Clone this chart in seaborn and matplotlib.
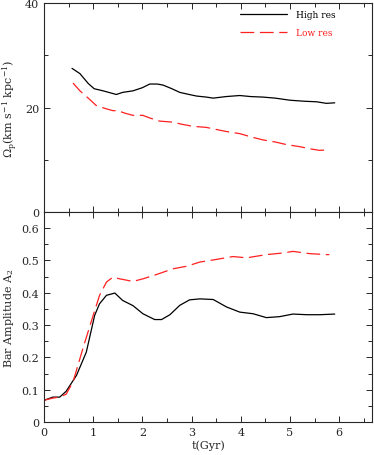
import numpy as np
import pandas as pd
import matplotlib
matplotlib.use("Agg")
import matplotlib.pyplot as plt
from matplotlib.ticker import MultipleLocator
import seaborn as sns

# pattern speed (top panel)
t_hi_om = [0.57, 0.73, 0.9, 1.02, 1.2, 1.47, 1.6, 1.81, 2.0, 2.15, 2.3, 2.42, 2.6, 2.76, 2.95, 3.1, 3.3, 3.44, 3.7, 3.98, 4.2, 4.45, 4.7, 5.0, 5.3, 5.54, 5.74, 5.91]
om_hi = [27.5, 26.5, 24.6, 23.6, 23.2, 22.5, 22.9, 23.2, 23.8, 24.5, 24.5, 24.3, 23.6, 22.9, 22.5, 22.2, 22.0, 21.8, 22.1, 22.3, 22.1, 22.0, 21.8, 21.4, 21.2, 21.1, 20.8, 20.9]
t_lo_om = [0.59, 0.73, 0.9, 1.06, 1.25, 1.4, 1.5, 1.65, 1.81, 2.01, 2.15, 2.35, 2.62, 2.8, 3.03, 3.3, 3.5, 3.71, 3.98, 4.2, 4.45, 4.7, 4.93, 5.2, 5.4, 5.6, 5.8]
om_lo = [24.7, 23.2, 21.8, 20.4, 19.8, 19.4, 19.4, 18.9, 18.5, 18.5, 18.0, 17.4, 17.2, 16.8, 16.4, 16.2, 15.8, 15.4, 15.0, 14.4, 13.8, 13.4, 12.9, 12.5, 12.1, 11.8, 11.9]

# bar amplitude (bottom panel)
t_hi_a2 = [0.0, 0.18, 0.32, 0.45, 0.66, 0.86, 1.03, 1.13, 1.27, 1.44, 1.6, 1.81, 2.01, 2.25, 2.39, 2.56, 2.76, 2.96, 3.17, 3.44, 3.71, 3.98, 4.25, 4.52, 4.79, 5.06, 5.34, 5.61, 5.91]
a2_hi = [0.067, 0.077, 0.077, 0.095, 0.144, 0.216, 0.33, 0.366, 0.392, 0.399, 0.376, 0.36, 0.335, 0.317, 0.317, 0.332, 0.361, 0.378, 0.381, 0.379, 0.356, 0.34, 0.335, 0.323, 0.326, 0.334, 0.332, 0.332, 0.334]
t_lo_a2 = [0.0, 0.18, 0.32, 0.45, 0.59, 0.79, 1.0, 1.13, 1.27, 1.4, 1.54, 1.81, 2.01, 2.28, 2.62, 2.9, 3.17, 3.5, 3.84, 4.12, 4.52, 4.86, 5.06, 5.4, 5.74, 5.8]
a2_lo = [0.067, 0.074, 0.077, 0.086, 0.124, 0.227, 0.33, 0.392, 0.433, 0.448, 0.443, 0.435, 0.443, 0.456, 0.474, 0.482, 0.495, 0.503, 0.512, 0.508, 0.518, 0.523, 0.528, 0.521, 0.518, 0.518]

sns.set_style("ticks")
plt.rcParams["font.family"] = ["DejaVu Serif"]
plt.rcParams["mathtext.fontset"] = "dejavuserif"

fig = plt.figure(figsize=(3.74, 4.56), dpi=100)
ax1 = fig.add_axes([0.1176, 0.533, 0.8774, 0.458])
ax2 = fig.add_axes([0.1176, 0.0724, 0.8774, 0.4606])

red = "#ff2020"
dash = (0, (11, 4.5))

sns.lineplot(x=t_hi_om, y=om_hi, ax=ax1, color="black", lw=0.9, label="High res")
sns.lineplot(x=t_lo_om, y=om_lo, ax=ax1, color=red, lw=0.9, linestyle=dash, label="Low res")
sns.lineplot(x=t_hi_a2, y=a2_hi, ax=ax2, color="black", lw=0.9)
sns.lineplot(x=t_lo_a2, y=a2_lo, ax=ax2, color=red, lw=0.9, linestyle=dash)

for ax in (ax1, ax2):
    ax.set_xlim(0, 6.67)
    ax.xaxis.set_major_locator(MultipleLocator(1))
    ax.xaxis.set_minor_locator(MultipleLocator(0.5))
    ax.tick_params(which="both", direction="in", top=True, right=True, labelsize=8)
    ax.tick_params(which="major", length=4, width=0.7)
    ax.tick_params(which="minor", length=3, width=0.7)
    for s in ax.spines.values():
        s.set_linewidth(0.8)

ax1.set_ylim(0, 40)
ax1.yaxis.set_major_locator(MultipleLocator(20))
ax1.yaxis.set_minor_locator(MultipleLocator(10))
ax1.tick_params(labelbottom=False)
ax1.set_ylabel(r"$\Omega_{\rm p}$(km s$^{-1}$ kpc$^{-1}$)", fontsize=8, labelpad=4)

ax2.set_ylim(0, 0.65)
ax2.yaxis.set_major_locator(MultipleLocator(0.1))
ax2.yaxis.set_minor_locator(MultipleLocator(0.05))
ax2.set_yticks([0, 0.1, 0.2, 0.3, 0.4, 0.5, 0.6])
ax2.set_yticklabels(["0", "0.1", "0.2", "0.3", "0.4", "0.5", "0.6"])
ax2.set_ylabel(r"Bar Amplitude A$_2$", fontsize=8, labelpad=4)
ax2.set_xlabel("t(Gyr)", fontsize=8, labelpad=2)

leg = ax1.legend(loc="upper left", bbox_to_anchor=(0.585, 0.985), frameon=False,
                 fontsize=6.5, handlelength=5.3, handletextpad=1.0,
                 labelspacing=1.05, borderaxespad=0.0)
for txt, c in zip(leg.get_texts(), ["black", red]):
    txt.set_color(c)

fig.savefig("out.png", dpi=100)
